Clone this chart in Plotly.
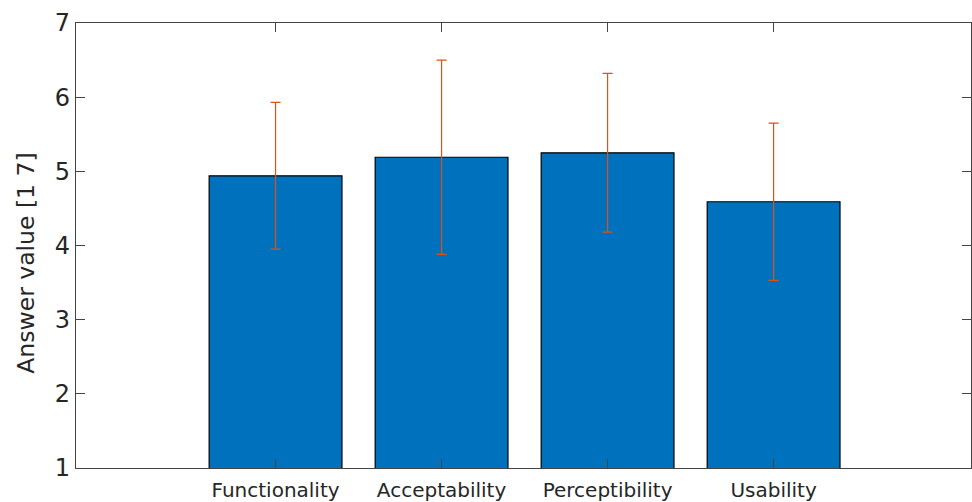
import plotly.graph_objects as go

# Questionnaire results: mean answer per dimension with standard deviation
categories = ["Functionality", "Acceptability", "Perceptibility", "Usability"]
mean_values = [4.94, 5.19, 5.25, 4.59]
std_values = [0.99, 1.31, 1.07, 1.06]
y_ticks = [1, 2, 3, 4, 5, 6, 7]
y_label = "Answer value [1 7]"

positions = list(range(1, len(categories) + 1))

BAR_BLUE = "#0072BD"
ERR_ORANGE = "#D95319"
AXIS_GRAY = "#262626"

fig = go.Figure()
fig.add_trace(go.Bar(
    x=positions,
    y=mean_values,
    width=0.8,
    marker=dict(color=BAR_BLUE, line=dict(color="#000000", width=1.2)),
    error_y=dict(type="data", array=std_values, visible=True,
                 color=ERR_ORANGE, thickness=1.2, width=5),
    showlegend=False,
    hoverinfo="skip",
))

fig.update_layout(
    width=972,
    height=502,
    margin=dict(l=76, r=0, t=23, b=32),
    paper_bgcolor="white",
    plot_bgcolor="white",
    font=dict(family="DejaVu Sans", color=AXIS_GRAY),
    bargap=0.2,
)

fig.update_xaxes(
    range=[-0.202, 5.189],
    tickvals=positions,
    ticktext=categories,
    tickfont=dict(size=20, color=AXIS_GRAY),
    ticklabelstandoff=4,
    ticks="inside",
    ticklen=9,
    tickwidth=1,
    tickcolor="#444444",
    showline=True,
    linecolor="#444444",
    linewidth=1.2,
    mirror="ticks",
    showgrid=False,
    zeroline=False,
)

fig.update_yaxes(
    range=[1, 7],
    tickvals=y_ticks,
    ticktext=[str(v) for v in y_ticks],
    tickfont=dict(size=24, color=AXIS_GRAY),
    ticks="inside",
    ticklen=9,
    tickwidth=1,
    tickcolor="#444444",
    showline=True,
    linecolor="#444444",
    linewidth=1.2,
    mirror="ticks",
    showgrid=False,
    zeroline=False,
)

# Vertical axis label, placed slightly below the axis midpoint
fig.add_annotation(
    text=y_label,
    textangle=-90,
    xref="paper", yref="paper",
    x=-0.056, y=0.461,
    xanchor="center", yanchor="middle",
    showarrow=False,
    font=dict(size=23.5, color=AXIS_GRAY),
)

fig.write_html("out.html")
